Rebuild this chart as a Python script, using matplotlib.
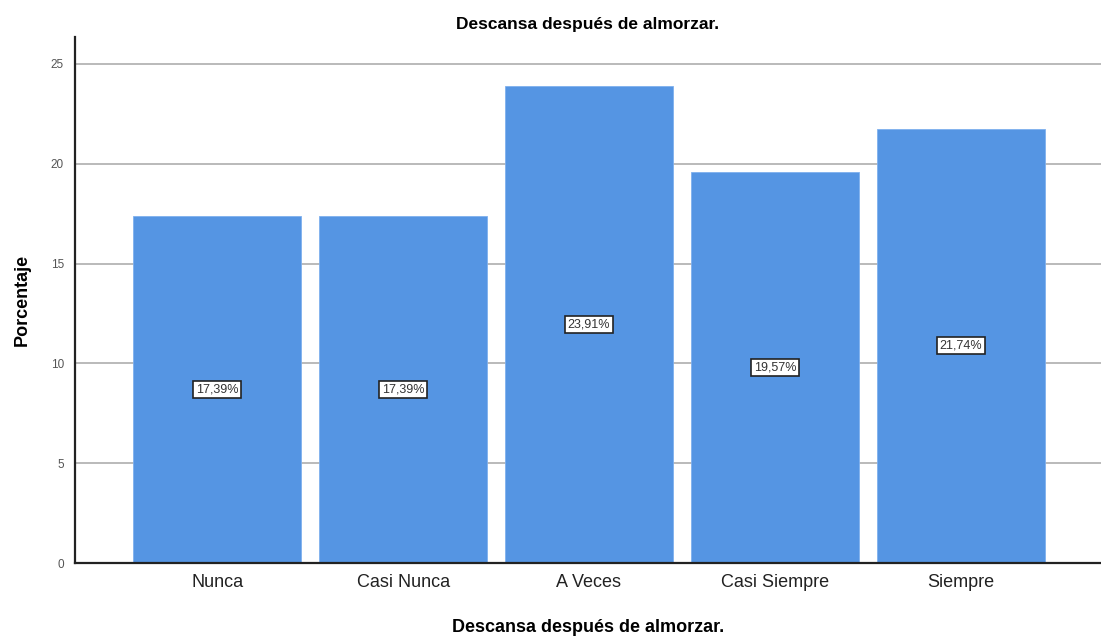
import numpy as np
import matplotlib.pyplot as plt

# datos del gráfico
categorias = ['Nunca', 'Casi Nunca', 'A Veces', 'Casi Siempre', 'Siempre']
porcentajes = [17.39, 17.39, 23.91, 19.57, 21.74]
etiquetas = ['17,39%', '17,39%', '23,91%', '19,57%', '21,74%']

plt.rcParams['font.family'] = ['Liberation Sans', 'DejaVu Sans']

fig = plt.figure(figsize=(11.01, 6.42), dpi=100)
ax = fig.add_axes([0.0681, 0.123, 0.932, 0.8195])

x = np.arange(len(categorias))
ax.bar(x, porcentajes, width=0.905, color='#5595e3', edgecolor='#7fb0ee', linewidth=0.6, zorder=2)

for xi, v, txt in zip(x, porcentajes, etiquetas):
    ax.text(xi, v / 2, txt, ha='center', va='center', fontsize=9, color='#333333',
            bbox=dict(boxstyle='square,pad=0.2', fc='white', ec='#222222', lw=1.2), zorder=3)

ax.set_xlim(-0.765, 4.755)
ax.set_ylim(0, 26.35)
ax.set_yticks([0, 5, 10, 15, 20, 25])
ax.set_xticks(x)
ax.set_xticklabels(categorias, fontsize=13, color='#222222')
ax.tick_params(axis='y', labelsize=8.5, labelcolor='#555555', length=0, pad=8)
ax.tick_params(axis='x', length=0, pad=8)

ax.grid(axis='y', color='#b4b4b4', lw=1.3, zorder=1)
ax.set_axisbelow(True)
for s in ['top', 'right']:
    ax.spines[s].set_visible(False)
ax.spines['left'].set_linewidth(1.6)
ax.spines['bottom'].set_linewidth(1.6)
ax.spines['left'].set_color('#222222')
ax.spines['bottom'].set_color('#222222')

ax.set_title('Descansa después de almorzar.', fontsize=12.5, fontweight='bold', pad=6)
ax.set_xlabel('Descansa después de almorzar.', fontsize=13, fontweight='bold', labelpad=20)
ax.set_ylabel('Porcentaje', fontsize=13, fontweight='bold', labelpad=14)

fig.savefig('out.png', dpi=100)
